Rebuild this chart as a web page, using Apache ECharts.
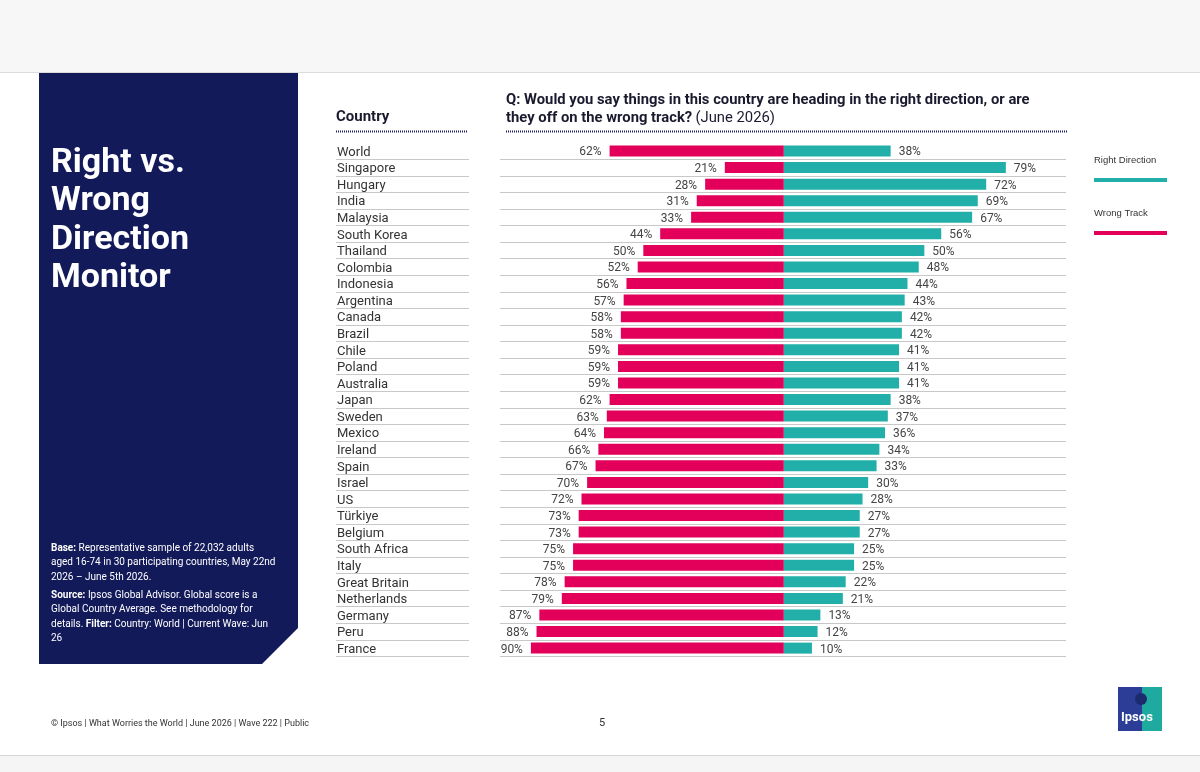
<!DOCTYPE html>
<html>
<head>
<meta charset="utf-8">
<script src="https://cdn.jsdelivr.net/npm/echarts@6/dist/echarts.min.js"></script>
<style>
  html, body { margin: 0; padding: 0; background: #fff; }
  #main { width: 1200px; height: 772px; }
</style>
</head>
<body>
<div id="main"></div>
<script>
const countries = ['World', 'Singapore', 'Hungary', 'India', 'Malaysia', 'South Korea', 'Thailand', 'Colombia',
  'Indonesia', 'Argentina', 'Canada', 'Brazil', 'Chile', 'Poland', 'Australia', 'Japan', 'Sweden', 'Mexico',
  'Ireland', 'Spain', 'Israel', 'US', 'Türkiye', 'Belgium', 'South Africa', 'Italy', 'Great Britain',
  'Netherlands', 'Germany', 'Peru', 'France'];
const rightDirection = [38, 79, 72, 69, 67, 56, 50, 48, 44, 43, 42, 42, 41, 41, 41, 38, 37, 36, 34, 33, 30, 28,
  27, 27, 25, 25, 22, 21, 13, 12, 10];
const wrongTrack = [62, 21, 28, 31, 33, 44, 50, 52, 56, 57, 58, 58, 59, 59, 59, 62, 63, 64, 66, 67, 70, 72,
  73, 73, 75, 75, 78, 79, 87, 88, 90];

const PINK = '#e2005a';
const TEAL = '#22afa9';
const NAVY = '#131a5a';
const FONT = 'Roboto, "Noto Sans", sans-serif';

const chart = echarts.init(document.getElementById('main'));

const rowLine = { show: true, showMinLine: false, showMaxLine: true, lineStyle: { color: '#c8c8c8', width: 1 } };

const option = {
  backgroundColor: '#ffffff',
  animation: false,
  grid: [
    { left: 336, right: 1200 - 469, top: 142.7, bottom: 115.6 },
    { left: 500, right: 134, top: 142.7, bottom: 115.6 }
  ],
  xAxis: [
    { gridIndex: 0, type: 'value', show: false, min: 0, max: 1 },
    { gridIndex: 1, type: 'value', show: false, min: -101, max: 100.4 }
  ],
  yAxis: [
    {
      gridIndex: 0, type: 'category', inverse: true, data: countries,
      axisLine: { show: false }, axisTick: { show: false },
      axisLabel: {
        inside: true, interval: 0, margin: 1,
        formatter: v => '{c|' + v + '}',
        rich: { c: { color: '#333', fontSize: 13, fontFamily: FONT, padding: [3, 0, 0, 0] } }
      },
      splitLine: rowLine
    },
    {
      gridIndex: 1, type: 'category', inverse: true, data: countries,
      axisLine: { show: false }, axisTick: { show: false }, axisLabel: { show: false },
      splitLine: rowLine
    }
  ],
  series: [
    {
      name: 'Wrong Track', type: 'bar', xAxisIndex: 1, yAxisIndex: 1, stack: 'dir',
      data: wrongTrack.map(v => -v), barWidth: 11,
      itemStyle: { color: PINK },
      label: {
        show: true, position: 'left', distance: 8, offset: [0, 1.5], color: '#444', fontSize: 12, fontFamily: FONT,
        formatter: p => Math.abs(p.value) + '%'
      }
    },
    {
      name: 'Right Direction', type: 'bar', xAxisIndex: 1, yAxisIndex: 1, stack: 'dir',
      data: rightDirection, barWidth: 11,
      itemStyle: { color: TEAL },
      label: {
        show: true, position: 'right', distance: 8, offset: [0, 1.5], color: '#444', fontSize: 12, fontFamily: FONT,
        formatter: p => p.value + '%'
      }
    }
  ],
  graphic: [
    // page bands
    { type: 'rect', z: -10, shape: { x: 0, y: 0, width: 1200, height: 72 }, style: { fill: '#f7f7f7' } },
    { type: 'line', z: -10, shape: { x1: 0, y1: 72.5, x2: 1200, y2: 72.5 }, style: { stroke: '#dcdcdc', lineWidth: 1 } },
    { type: 'rect', z: -10, shape: { x: 0, y: 755, width: 1200, height: 17 }, style: { fill: '#f5f5f5' } },
    { type: 'line', z: -10, shape: { x1: 0, y1: 755.5, x2: 1200, y2: 755.5 }, style: { stroke: '#d6d6d6', lineWidth: 1 } },
    // left panel
    {
      type: 'polygon', z: -5,
      shape: { points: [[39, 73], [298, 73], [298, 628], [262, 664], [39, 664]] },
      style: { fill: NAVY }
    },
    {
      type: 'text', left: 51, top: 144,
      style: {
        text: 'Right vs.\nWrong\nDirection\nMonitor',
        fill: '#fff', font: 'bold 34px ' + FONT, lineHeight: 38.5
      }
    },
    {
      type: 'text', left: 51, top: 541,
      style: {
        text: '{b|Base:} Representative sample of 22,032 adults\naged 16-74 in 30 participating countries, May 22nd\n2026 – June 5th 2026.',
        fill: '#fff', font: '10px ' + FONT, lineHeight: 14.5,
        rich: { b: { fontWeight: 'bold', fill: '#fff', fontSize: 10, fontFamily: FONT } }
      }
    },
    {
      type: 'text', left: 51, top: 588,
      style: {
        text: '{b|Source:} Ipsos Global Advisor. Global score is a\nGlobal Country Average. See methodology for\ndetails. {b|Filter:} Country: World | Current Wave: Jun\n26',
        fill: '#fff', font: '10px ' + FONT, lineHeight: 14.5,
        rich: { b: { fontWeight: 'bold', fill: '#fff', fontSize: 10, fontFamily: FONT } }
      }
    },
    // headers
    {
      type: 'text', left: 336, top: 110,
      style: { text: 'Country', fill: '#1a1a2e', font: 'bold 15px ' + FONT }
    },
    {
      type: 'text', left: 506, top: 91,
      style: {
        text: '{b|Q: Would you say things in this country are heading in the right direction, or are}\n{b|they off on the wrong track?} {n|(June 2026)}',
        lineHeight: 18,
        rich: {
          b: { fontWeight: 'bold', fontSize: 14.8, fontFamily: FONT, fill: '#1a1a2e', lineHeight: 18 },
          n: { fontSize: 14.8, fontFamily: FONT, fill: '#1a1a2e', lineHeight: 18 }
        }
      }
    },
    { type: 'line', shape: { x1: 336, y1: 131.5, x2: 468, y2: 131.5 }, style: { stroke: '#1a2060', lineWidth: 2, lineDash: [1, 1] } },
    { type: 'line', shape: { x1: 506, y1: 131.5, x2: 1067, y2: 131.5 }, style: { stroke: '#1a2060', lineWidth: 2, lineDash: [1, 1] } },
    // legend
    { type: 'text', left: 1094, top: 155, style: { text: 'Right Direction', fill: '#333', font: '9.5px "Liberation Sans", Arial, sans-serif' } },
    { type: 'rect', shape: { x: 1094, y: 178, width: 73, height: 4 }, style: { fill: TEAL } },
    { type: 'text', left: 1094, top: 208, style: { text: 'Wrong Track', fill: '#333', font: '9.5px "Liberation Sans", Arial, sans-serif' } },
    { type: 'rect', shape: { x: 1094, y: 231, width: 73, height: 4 }, style: { fill: PINK } },
    // footer
    {
      type: 'text', left: 51, top: 719,
      style: { text: '© Ipsos | What Worries the World | June 2026 | Wave 222 | Public', fill: '#333', font: '9px ' + FONT }
    },
    { type: 'text', left: 599, top: 718, style: { text: '5', fill: '#333', font: '11px ' + FONT } },
    // logo
    {
      type: 'rect', shape: { x: 1118, y: 687, width: 44, height: 44 },
      style: {
        fill: new echarts.graphic.LinearGradient(0, 0, 1, 0, [
          { offset: 0, color: '#2c3d98' }, { offset: 0.55, color: '#2c3d98' },
          { offset: 0.55, color: '#1faaa0' }, { offset: 1, color: '#1faaa0' }
        ])
      }
    },
    {
      type: 'circle', shape: { cx: 1141, cy: 699, r: 6 }, style: { fill: '#1c2a6e' }
    },
    {
      type: 'text', left: 1121, top: 711,
      style: { text: 'Ipsos', fill: '#fff', font: 'bold 13px ' + FONT }
    }
  ]
};

window.addEventListener('resize', () => chart.resize());
chart.setOption(option);
</script>
</body>
</html>
